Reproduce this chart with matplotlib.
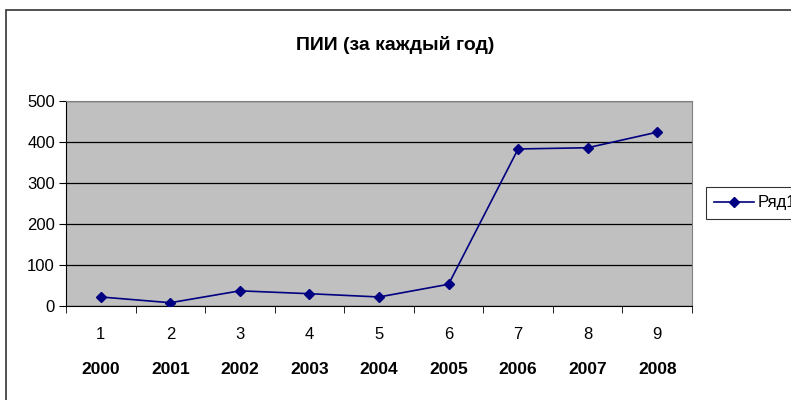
import numpy as np
import matplotlib.pyplot as plt
from matplotlib.patches import Rectangle
from matplotlib.transforms import blended_transform_factory

plt.rcParams['font.family'] = ['Liberation Sans', 'DejaVu Sans']

# données
categories = ['1', '2', '3', '4', '5', '6', '7', '8', '9']
years = ['2000', '2001', '2002', '2003', '2004', '2005', '2006', '2007', '2008']
values = [22, 8, 37, 30, 22, 53, 383, 386, 424]
y_ticks = [0, 100, 200, 300, 400, 500]

fig = plt.figure(figsize=(7.91, 4.0), dpi=100)
fig.patch.set_facecolor('white')

# cadre extérieur
fig.patches.append(Rectangle((6 / 791, -0.1), 1.2, 1 - 10 / 400 + 0.1,
                             transform=fig.transFigure, fill=False,
                             edgecolor='#333333', linewidth=1.2))

ax = fig.add_axes([66 / 791, 1 - 306 / 400, 626 / 791, 205 / 400])
ax.set_facecolor('#C0C0C0')

x = np.arange(1, len(values) + 1)
line, = ax.plot(x, values, color='#000080', linewidth=1.2, marker='D',
                markersize=5.5, label='Ряд1', zorder=3)

ax.set_xlim(0.5, len(values) + 0.5)
ax.set_ylim(0, 500)
ax.set_yticks(y_ticks)
ax.set_yticklabels([str(v) for v in y_ticks], fontsize=12)
ax.yaxis.grid(True, color='black', linewidth=0.9)
ax.set_axisbelow(True)

ax.set_xticks(x)
ax.set_xticklabels(categories, fontsize=12)
ax.tick_params(axis='x', which='major', length=0, pad=15)
ax.set_xticks(np.arange(0.5, len(values) + 1, 1), minor=True)
ax.tick_params(axis='x', which='minor', length=5, direction='out', color='black')
ax.tick_params(axis='y', length=5, direction='out', color='black', pad=3)

for s in ['top', 'right']:
    ax.spines[s].set_color('#808080')
for s in ['left', 'bottom']:
    ax.spines[s].set_color('black')

trans = blended_transform_factory(ax.transData, ax.transAxes)
for xi, yr in zip(x, years):
    ax.text(xi, -0.312, yr, transform=trans, ha='center', va='center',
            fontsize=12.5, fontweight='bold')

fig.text(0.5, 1 - 45 / 400, 'ПИИ (за каждый год)', ha='center', va='center',
         fontsize=14, fontweight='bold')

leg = fig.legend(handles=[line], loc='center left',
                 bbox_to_anchor=(706 / 791, 1 - 203 / 400), fontsize=12,
                 frameon=True, fancybox=False, handlelength=2.4,
                 handletextpad=0.2, borderpad=0.5, borderaxespad=0)
leg.get_frame().set_edgecolor('black')
leg.get_frame().set_linewidth(0.8)

fig.savefig('out.png', dpi=100)
